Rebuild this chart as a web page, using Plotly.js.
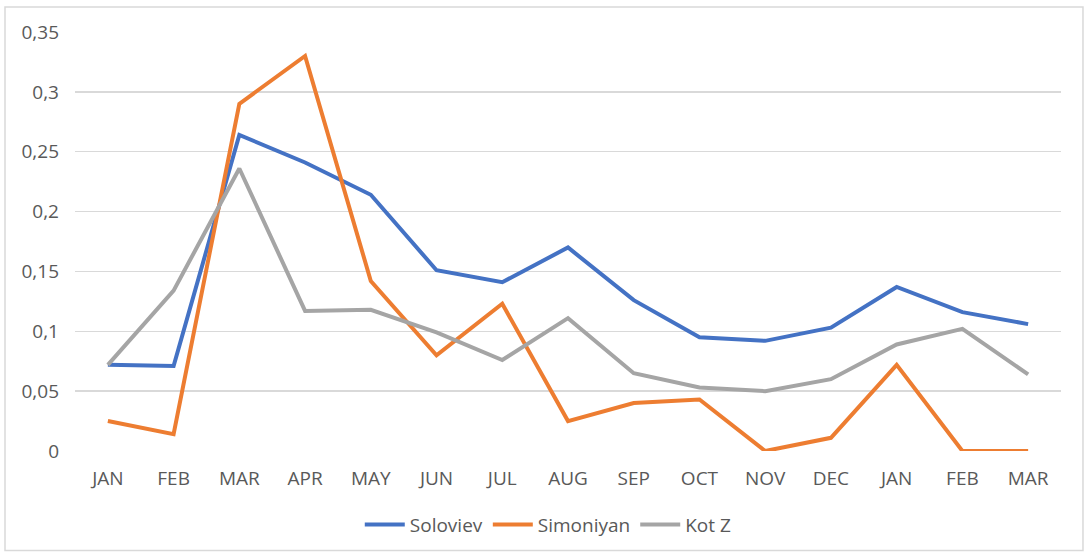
<!DOCTYPE html>
<html>
<head>
<meta charset="utf-8">
<script src="https://cdn.plot.ly/plotly-3.0.1.min.js"></script>
<style>html,body{margin:0;padding:0;background:#fff;}#chart{width:1086px;height:556px;}</style>
</head>
<body>
<div id="chart"></div>
<script>
var months = ["JAN","FEB","MAR","APR","MAY","JUN","JUL","AUG","SEP","OCT","NOV","DEC","JAN","FEB","MAR"];
var soloviev = [0.072,0.071,0.264,0.241,0.214,0.151,0.141,0.170,0.126,0.095,0.092,0.103,0.137,0.116,0.106];
var simoniyan = [0.025,0.014,0.290,0.330,0.142,0.080,0.123,0.025,0.040,0.043,0.000,0.011,0.072,0.000,0.000];
var kotZ = [0.072,0.134,0.236,0.117,0.118,0.099,0.076,0.111,0.065,0.053,0.050,0.060,0.089,0.102,0.064];
var yTickVals = [0,0.05,0.1,0.15,0.2,0.25,0.3,0.35];
var yTickText = ["0","0,05","0,1","0,15","0,2","0,25","0,3","0,35"];

var idx = months.map(function(_, i){ return i; });
function tr(name, y, color){
  return {x: idx, y: y, name: name, type: 'scatter', mode: 'lines',
    line: {color: color, width: 4, shape: 'linear'}};
}
var data = [
  tr('Soloviev', soloviev, '#4472C4'),
  tr('Simoniyan', simoniyan, '#ED7D31'),
  tr('Kot Z', kotZ, '#A5A5A5')
];
var font = {family: 'Open Sans, Noto Sans, sans-serif', size: 19, color: '#595959'};
var layout = {
  width: 1086, height: 556,
  margin: {l: 75, r: 25, t: 32, b: 103},
  paper_bgcolor: '#fff', plot_bgcolor: '#fff',
  font: font,
  showlegend: true,
  legend: {orientation: 'h', x: 0.48, xanchor: 'center', y: -0.176, yanchor: 'middle',
    font: {family: 'Open Sans, Noto Sans, sans-serif', size: 19, color: '#595959'},
    itemwidth: 40, tracegroupgap: 0},
  xaxis: {range: [-0.5, 14.5], tickvals: idx, ticktext: months, showgrid: false,
    zeroline: false, showline: false, ticks: '', tickfont: font, fixedrange: true,
    ticklabelstandoff: 14},
  yaxis: {range: [0, 0.35], tickvals: yTickVals, ticktext: yTickText, showgrid: true,
    gridcolor: '#D9D9D9', gridwidth: 1.5, zeroline: false, showline: false, ticks: '',
    ticklabelstandoff: 15, tickfont: font, fixedrange: true},
  shapes: [{type: 'rect', xref: 'paper', yref: 'paper', x0: -0.071, x1: 1.0223, y0: -0.2375, y1: 1.0594,
    line: {color: '#D9D9D9', width: 1.5}, fillcolor: 'rgba(0,0,0,0)'}]
};
Plotly.newPlot('chart', data, layout, {displayModeBar: false, staticPlot: true});
</script>
</body>
</html>
